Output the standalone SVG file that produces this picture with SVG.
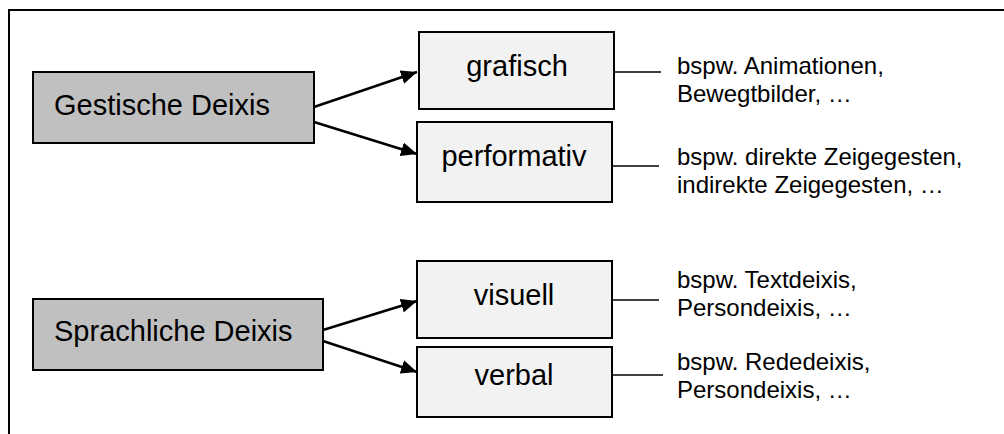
<svg xmlns="http://www.w3.org/2000/svg" width="1004" height="434" viewBox="0 0 1004 434">
<defs>
<style>
.main{fill:#c0c0c0;stroke:#000;stroke-width:2}
.sub{fill:#f2f2f2;stroke:#000;stroke-width:2}
.lbl{font-family:"Liberation Sans",Arial,sans-serif;font-size:29px;fill:#000}
.note{font-family:"Liberation Sans",Arial,sans-serif;font-size:24px;fill:#000}
.arrow{stroke:#000;stroke-width:2.5;fill:none;marker-end:url(#ah)}
.tick{stroke:#000;stroke-width:1.5;fill:none}
.frame{stroke:#000;stroke-width:2;fill:none}
</style>
<marker id="ah" markerUnits="userSpaceOnUse" markerWidth="16" markerHeight="14" refX="16" refY="7" orient="auto">
<path d="M0,0 L16,7 L0,14 z" fill="#000"/>
</marker>
</defs>
<rect width="1004" height="434" fill="#fff"/>
<path class="frame" d="M9,434 L9,10 L1004,10"/>

<g id="gestische">
<rect class="main" x="33" y="72" width="281" height="71"/>
<text class="lbl" x="54" y="115">Gestische Deixis</text>
</g>
<g id="grafisch">
<rect class="sub" x="419" y="32" width="195" height="77"/>
<text class="lbl" x="517" y="76" text-anchor="middle">grafisch</text>
</g>
<g id="performativ">
<rect class="sub" x="417" y="122" width="195" height="80"/>
<text class="lbl" x="514" y="166" text-anchor="middle">performativ</text>
</g>
<g id="sprachliche">
<rect class="main" x="33" y="299" width="290" height="71"/>
<text class="lbl" x="54" y="341">Sprachliche Deixis</text>
</g>
<g id="visuell">
<rect class="sub" x="417" y="261" width="195" height="77"/>
<text class="lbl" x="514" y="305" text-anchor="middle">visuell</text>
</g>
<g id="verbal">
<rect class="sub" x="417" y="347" width="195" height="70"/>
<text class="lbl" x="514" y="385" text-anchor="middle">verbal</text>
</g>

<g id="note-grafisch">
<text class="note" x="677" y="74">bspw. Animationen,</text>
<text class="note" x="677" y="101.5">Bewegtbilder, …</text>
</g>
<g id="note-performativ">
<text class="note" x="677" y="165">bspw. direkte Zeigegesten,</text>
<text class="note" x="677" y="192.5">indirekte Zeigegesten, …</text>
</g>
<g id="note-visuell">
<text class="note" x="677" y="288">bspw. Textdeixis,</text>
<text class="note" x="677" y="315.5">Persondeixis, …</text>
</g>
<g id="note-verbal">
<text class="note" x="677" y="370">bspw. Rededeixis,</text>
<text class="note" x="677" y="397.5">Persondeixis, …</text>
</g>

<g id="connectors">
<line class="arrow" x1="314" y1="107" x2="417" y2="72"/>
<line class="arrow" x1="314" y1="122" x2="417" y2="154"/>
<line class="arrow" x1="323" y1="330" x2="417" y2="301"/>
<line class="arrow" x1="323" y1="341" x2="417" y2="372"/>
<line class="tick" x1="614" y1="72" x2="661" y2="72"/>
<line class="tick" x1="612" y1="166" x2="659" y2="166"/>
<line class="tick" x1="612" y1="300" x2="659" y2="300"/>
<line class="tick" x1="612" y1="375" x2="663" y2="375"/>
</g>
</svg>
